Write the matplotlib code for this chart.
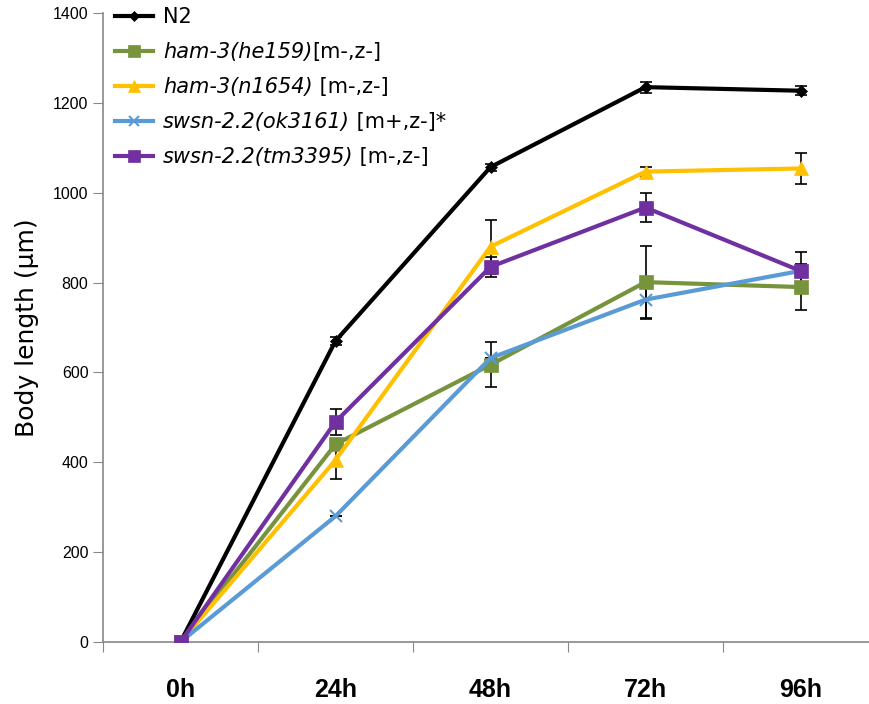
import matplotlib
matplotlib.use("Agg")
import matplotlib.pyplot as plt

# Body length over time
times = ["0h", "24h", "48h", "72h", "96h"]

n2 = [0, 670, 1057, 1235, 1227]
n2_err = [0, 8, 8, 12, 10]

he159 = [0, 440, 617, 801, 790]
he159_err = [0, 0, 50, 81, 51]

n1654 = [0, 405, 880, 1047, 1054]
n1654_err = [0, 42, 60, 10, 35]

ok3161 = [0, 280, 632, 762, 826]
ok3161_err = [0, 0, 0, 40, 0]

tm3395 = [0, 490, 835, 967, 826]
tm3395_err = [0, 29, 22, 32, 42]

italic_names = ["N2", "ham-3(he159)", "ham-3(n1654)", "swsn-2.2(ok3161)", "swsn-2.2(tm3395)"]
suffixes = ["", "[m-,z-]", " [m-,z-]", " [m+,z-]*", " [m-,z-]"]

series = [
    (n2, n2_err, "black", "D", 6),
    (he159, he159_err, "#77933C", "s", 10),
    (n1654, n1654_err, "#FFC000", "^", 10),
    (ok3161, ok3161_err, "#5B9BD5", "x", 9),
    (tm3395, tm3395_err, "#7030A0", "s", 10),
]

fig = plt.figure(figsize=(8.7, 7.04), dpi=100)
ax = fig.add_axes([103 / 870, 62 / 704, 775 / 870, 629 / 704])

x = list(range(len(times)))
handles = []
for (vals, err, col, mk, ms) in series:
    ax.errorbar(x, vals, yerr=err, fmt="none", ecolor="black", elinewidth=1.2,
                capsize=4, capthick=1.2, zorder=2)
    h, = ax.plot(x, vals, color=col, lw=3, marker=mk, markersize=ms,
                 markeredgewidth=1.5 if mk == "x" else 0.5, zorder=3)
    handles.append(h)

ax.set_xlim(-0.5, 4.5)
ax.set_ylim(0, 1400)
ax.set_yticks(range(0, 1401, 200))
ax.set_xticks([i + 0.5 for i in range(-1, 5)], minor=False)
ax.set_xticklabels([])
ax.set_xticks(x, minor=True)
ax.set_xticklabels(times, minor=True, fontsize=18, fontweight="bold",
                   family="Liberation Sans")
ax.tick_params(axis="x", which="minor", length=0, pad=26)
ax.tick_params(axis="x", which="major", length=7, color="#888888", direction="out")
ax.tick_params(axis="y", length=7, color="#888888", direction="out", labelsize=11.5)
for lab in ax.get_yticklabels():
    lab.set_family("Liberation Sans")

for s in ["top", "right"]:
    ax.spines[s].set_visible(False)
for s in ["left", "bottom"]:
    ax.spines[s].set_color("#888888")
    ax.spines[s].set_linewidth(1.2)

ax.set_ylabel("Body length (µm)", fontsize=18, family="DejaVu Sans", labelpad=10)

leg = fig.legend(handles, italic_names, loc="upper left",
                 bbox_to_anchor=(115 / 870, 1 - 7 / 704),
                 frameon=False, prop={"family": "DejaVu Sans", "size": 15},
                 handlelength=1.8, labelspacing=0.72, handletextpad=0.5,
                 markerscale=0.8, borderpad=0, borderaxespad=0)
for i, t in enumerate(leg.get_texts()):
    if i > 0:
        t.set_fontstyle("italic")

fig.canvas.draw()
renderer = fig.canvas.get_renderer()
for t, suf in zip(leg.get_texts(), suffixes):
    if not suf:
        continue
    bb = t.get_window_extent(renderer)
    fx, fy = fig.transFigure.inverted().transform((bb.x1, (bb.y0 + bb.y1) / 2))
    fig.text(fx, fy, suf, fontsize=15, family="DejaVu Sans", va="center", ha="left")

fig.savefig("out.png", dpi=100)
